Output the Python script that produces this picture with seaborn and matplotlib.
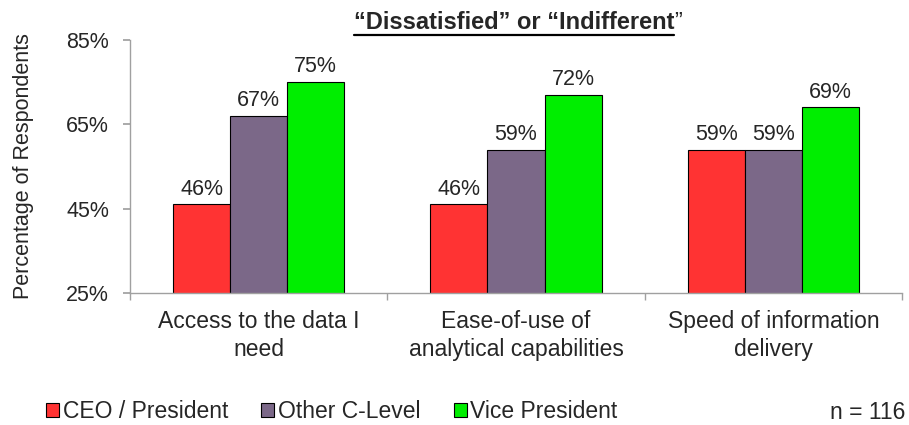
import matplotlib
matplotlib.use("Agg")
import matplotlib.pyplot as plt
import seaborn as sns
import pandas as pd
from matplotlib.lines import Line2D

categories = ["Access to the data I\nneed", "Ease-of-use of\nanalytical capabilities", "Speed of information\ndelivery"]
groups = ["CEO / President", "Other C-Level", "Vice President"]
ceo = [46, 46, 59]
other = [67, 59, 59]
vp = [75, 72, 69]
yticks = [25, 45, 65, 85]
colors = ["#FF3333", "#7B6888", "#00EE00"]

rows = []
for g, vals in zip(groups, [ceo, other, vp]):
    for c, v in zip(categories, vals):
        rows.append({"cat": c, "grp": g, "val": v})
df = pd.DataFrame(rows)

sns.set_theme(style="white")
plt.rcParams["font.family"] = ["Liberation Sans", "DejaVu Sans"]

fig = plt.figure(figsize=(9.09, 4.25), dpi=100)
ax = fig.add_axes([130/909, 1-293/425, (902-130)/909, (293-40)/425])

sns.barplot(data=df, x="cat", y="val", hue="grp", order=categories, hue_order=groups,
            palette=colors, width=0.665, edgecolor="black", linewidth=0.8,
            saturation=1, ax=ax, legend=True)

for cont in ax.containers:
    ax.bar_label(cont, labels=[f"{int(round(b.get_height()))}%" for b in cont],
                 padding=3.5, fontsize=15.5)

ax.set_ylim(25, 85)
ax.set_yticks(yticks)
ax.set_yticklabels([f"{t}%" for t in yticks], fontsize=15.5)
ax.set_xlim(-0.5, 2.5)
ax.set_xticks(range(3))
ax.set_xticklabels(categories, fontsize=16.5, linespacing=1.3)
ax.set_xticks([-0.5, 0.5, 1.5, 2.5], minor=True)
ax.tick_params(axis="x", which="major", length=0, pad=12)
ax.tick_params(axis="x", which="minor", length=5, color="#A0A0A0", direction="out", bottom=True)
ax.tick_params(axis="y", length=5, color="#A0A0A0", direction="out", left=True, pad=10)
ax.set_xlabel("")
ax.set_ylabel("Percentage of Respondents", fontsize=15.5)
ax.yaxis.set_label_coords(-(130-34)/772, 0.5)
for s in ["top", "right"]:
    ax.spines[s].set_visible(False)
for s in ["left", "bottom"]:
    ax.spines[s].set_color("#A0A0A0")
    ax.spines[s].set_linewidth(1.0)

handles, labels = ax.get_legend_handles_labels()
ax.get_legend().remove()
fig.legend(handles, labels, loc="lower left", bbox_to_anchor=(44/909, 0.0), ncol=3,
           frameon=False, fontsize=16.5, handlelength=0.57, handleheight=0.57,
           handletextpad=0.15, columnspacing=1.45, borderaxespad=0.0, borderpad=0.1)

fig.text(905/909, 1-419/425, "n = 116", ha="right", va="baseline", fontsize=16.5)

# title with underline, closing quote in regular weight
ty = 1 - 29/425
t1 = fig.text(0, ty, "\u201cDissatisfied\u201d or \u201cIndifferent", fontsize=17,
              fontweight="bold", ha="left", va="baseline")
t2 = fig.text(0, ty, "\u201d", fontsize=17, ha="left", va="baseline")
fig.canvas.draw()
r = fig.canvas.get_renderer()
w1 = t1.get_window_extent(r).width
w2 = t2.get_window_extent(r).width
total = (w1 + w2) / fig.bbox.width
cx = 518/909
x0 = cx - total/2
t1.set_x(x0)
t2.set_x(x0 + w1/fig.bbox.width)
yline = 1 - 34.5/425
fig.add_artist(Line2D([x0, x0 + w1/fig.bbox.width], [yline, yline], transform=fig.transFigure,
                      color="black", linewidth=1.6))

fig.savefig("out.png", dpi=100)
